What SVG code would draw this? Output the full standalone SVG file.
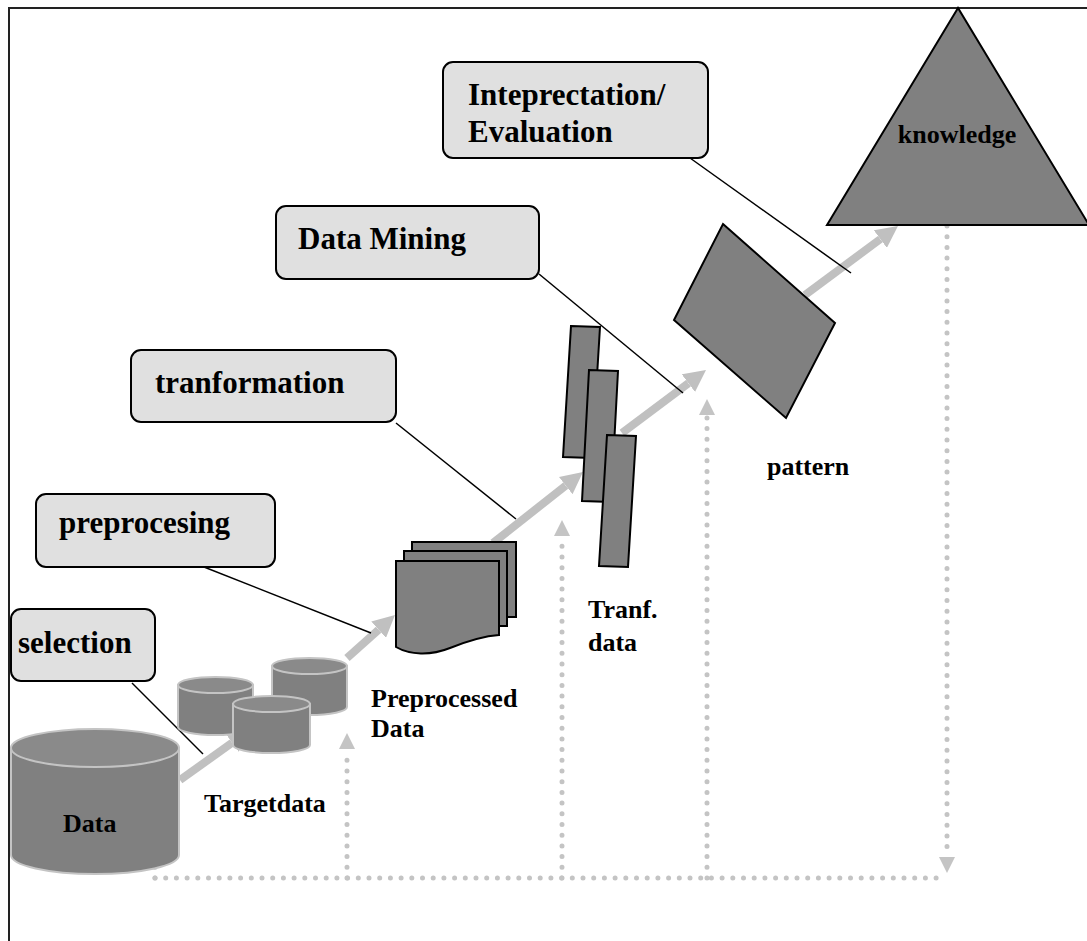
<svg xmlns="http://www.w3.org/2000/svg" width="1087" height="941" viewBox="0 0 1087 941">
  <style>
    .frame { stroke: #222; stroke-width: 2; fill: none; }
    .box { fill: #e0e0e0; stroke: #000; stroke-width: 2; }
    .boxlabel { font-family: "Liberation Serif", "Times New Roman", serif; font-weight: bold; font-size: 31px; fill: #000; }
    .label { font-family: "Liberation Serif", "Times New Roman", serif; font-weight: bold; font-size: 26px; fill: #000; }
    .shape { fill: #808080; stroke: #000; stroke-width: 2; stroke-linejoin: miter; }
    .cyl { fill: #808080; stroke: #c4c4c4; stroke-width: 2; }
    .cyltop { fill: #8a8a8a; stroke: #c4c4c4; stroke-width: 2; }
    .leader { stroke: #000; stroke-width: 1.5; fill: none; }
    .flow { stroke: #c0c0c0; stroke-width: 8; fill: none; marker-end: url(#bigHead); }
    .dots { stroke: #c4c4c4; stroke-width: 5; stroke-linecap: round; stroke-dasharray: 0 10.7; fill: none; }
    .dothead { fill: #c4c4c4; }
  </style>
  <defs>
    <marker id="bigHead" markerUnits="userSpaceOnUse" markerWidth="22" markerHeight="22" viewBox="0 0 22 22" refX="0" refY="11" orient="auto">
      <path d="M0,0 L22,11 L0,22 Z" fill="#c0c0c0"/>
    </marker>
  </defs>

  <rect width="1087" height="941" fill="#fff"/>

  <!-- outer frame: top and left edges -->
  <path class="frame" d="M9,941 L9,8 L1087,8"/>

  <!-- feedback loop (dotted) -->
  <g id="feedback">
    <line class="dots" x1="155" y1="878" x2="938" y2="878"/>
    <line class="dots" x1="155" y1="878" x2="155" y2="824"/>
    <polygon class="dothead" points="155,807 147,823 163,823"/>
    <line class="dots" x1="347" y1="878" x2="347" y2="750"/>
    <polygon class="dothead" points="347,733 339,749 355,749"/>
    <line class="dots" x1="562" y1="878" x2="562" y2="537"/>
    <polygon class="dothead" points="562,520 554,536 570,536"/>
    <line class="dots" x1="707" y1="878" x2="707" y2="415"/>
    <polygon class="dothead" points="707,399 699,415 715,415"/>
    <line class="dots" x1="947" y1="226" x2="947" y2="855"/>
    <polygon class="dothead" points="947,873 939,857 955,857"/>
  </g>

  <!-- process flow arrows and label leaders -->
  <g id="connectors">
    <line class="flow" x1="180" y1="780" x2="232.1" y2="742.8"/>
    <line class="flow" x1="347" y1="658" x2="378.6" y2="629.7"/>
    <line class="flow" x1="493" y1="543" x2="565.7" y2="485.6"/>
    <line class="flow" x1="622" y1="433" x2="688.4" y2="383.2"/>
    <line class="flow" x1="805" y1="295" x2="880.3" y2="239.1"/>

    <line class="leader" x1="132" y1="683" x2="203" y2="754"/>
    <line class="leader" x1="204" y1="567" x2="371" y2="633"/>
    <line class="leader" x1="396" y1="423" x2="516" y2="519"/>
    <line class="leader" x1="539" y1="274" x2="683" y2="393"/>
    <line class="leader" x1="683" y1="153" x2="851" y2="273"/>
  </g>

  <!-- step labels -->
  <g id="step-selection">
    <rect class="box" x="11" y="609" width="144" height="72" rx="10"/>
    <text class="boxlabel" x="18" y="653">selection</text>
  </g>
  <g id="step-preprocessing">
    <rect class="box" x="36" y="494" width="239" height="73" rx="10"/>
    <text class="boxlabel" x="59" y="533">preprocesing</text>
  </g>
  <g id="step-transformation">
    <rect class="box" x="131" y="350" width="265" height="72" rx="10"/>
    <text class="boxlabel" x="155" y="393">tranformation</text>
  </g>
  <g id="step-mining">
    <rect class="box" x="276" y="206" width="263" height="73" rx="10"/>
    <text class="boxlabel" x="298" y="249">Data Mining</text>
  </g>
  <g id="step-evaluation">
    <rect class="box" x="443" y="62" width="265" height="96" rx="10"/>
    <text class="boxlabel" x="468" y="105">Inteprectation/</text>
    <text class="boxlabel" x="468" y="142">Evaluation</text>
  </g>

  <!-- raw data store -->
  <g id="data">
    <path class="cyl" d="M11,748 L11,855 A84,19 0 0 0 179,855 L179,748 Z"/>
    <ellipse class="cyltop" cx="95" cy="748" rx="84" ry="19"/>
    <text class="label" x="63" y="832">Data</text>
  </g>

  <!-- target data: three small stores -->
  <g id="target-data">
    <path class="cyl" d="M178,685 L178,727 A37.5,8 0 0 0 253,727 L253,685 Z"/>
    <ellipse class="cyltop" cx="215.5" cy="685" rx="37.5" ry="8"/>
    <path class="cyl" d="M272,666 L272,707 A37.5,8 0 0 0 347,707 L347,666 Z"/>
    <ellipse class="cyltop" cx="309.5" cy="666" rx="37.5" ry="8"/>
    <path class="cyl" d="M233,704 L233,745 A38.5,8 0 0 0 310,745 L310,704 Z"/>
    <ellipse class="cyltop" cx="271.5" cy="704" rx="38.5" ry="8"/>
    <text class="label" x="204" y="812">Targetdata</text>
  </g>

  <!-- preprocessed data: stacked documents -->
  <g id="preprocessed-data">
    <rect class="shape" x="412" y="542" width="104" height="75"/>
    <rect class="shape" x="404" y="551" width="103" height="75"/>
    <path class="shape" d="M396,561 L499,561 L499,635 C485,636 470,640 450,648 C430,656 410,655 396,647 Z"/>
    <text class="label" x="371" y="707">Preprocessed</text>
    <text class="label" x="371" y="737">Data</text>
  </g>

  <!-- transformed data: tilted sheets -->
  <g id="transformed-data">
    <polygon class="shape" points="571,326 600,327 592,458 563,457"/>
    <polygon class="shape" points="589,370 618,371 611,502 582,501"/>
    <polygon class="shape" points="607,435 636,436 628,567 599,566"/>
    <text class="label" x="588" y="618">Tranf.</text>
    <text class="label" x="588" y="651">data</text>
  </g>

  <!-- mined patterns -->
  <g id="pattern">
    <polygon class="shape" points="723,224 835,323 786,418 674,320"/>
    <text class="label" x="767" y="475">pattern</text>
  </g>

  <!-- resulting knowledge -->
  <g id="knowledge">
    <polygon class="shape" points="958,8 827,225 1089,225"/>
    <text class="label" x="957" y="143" text-anchor="middle">knowledge</text>
  </g>
</svg>
